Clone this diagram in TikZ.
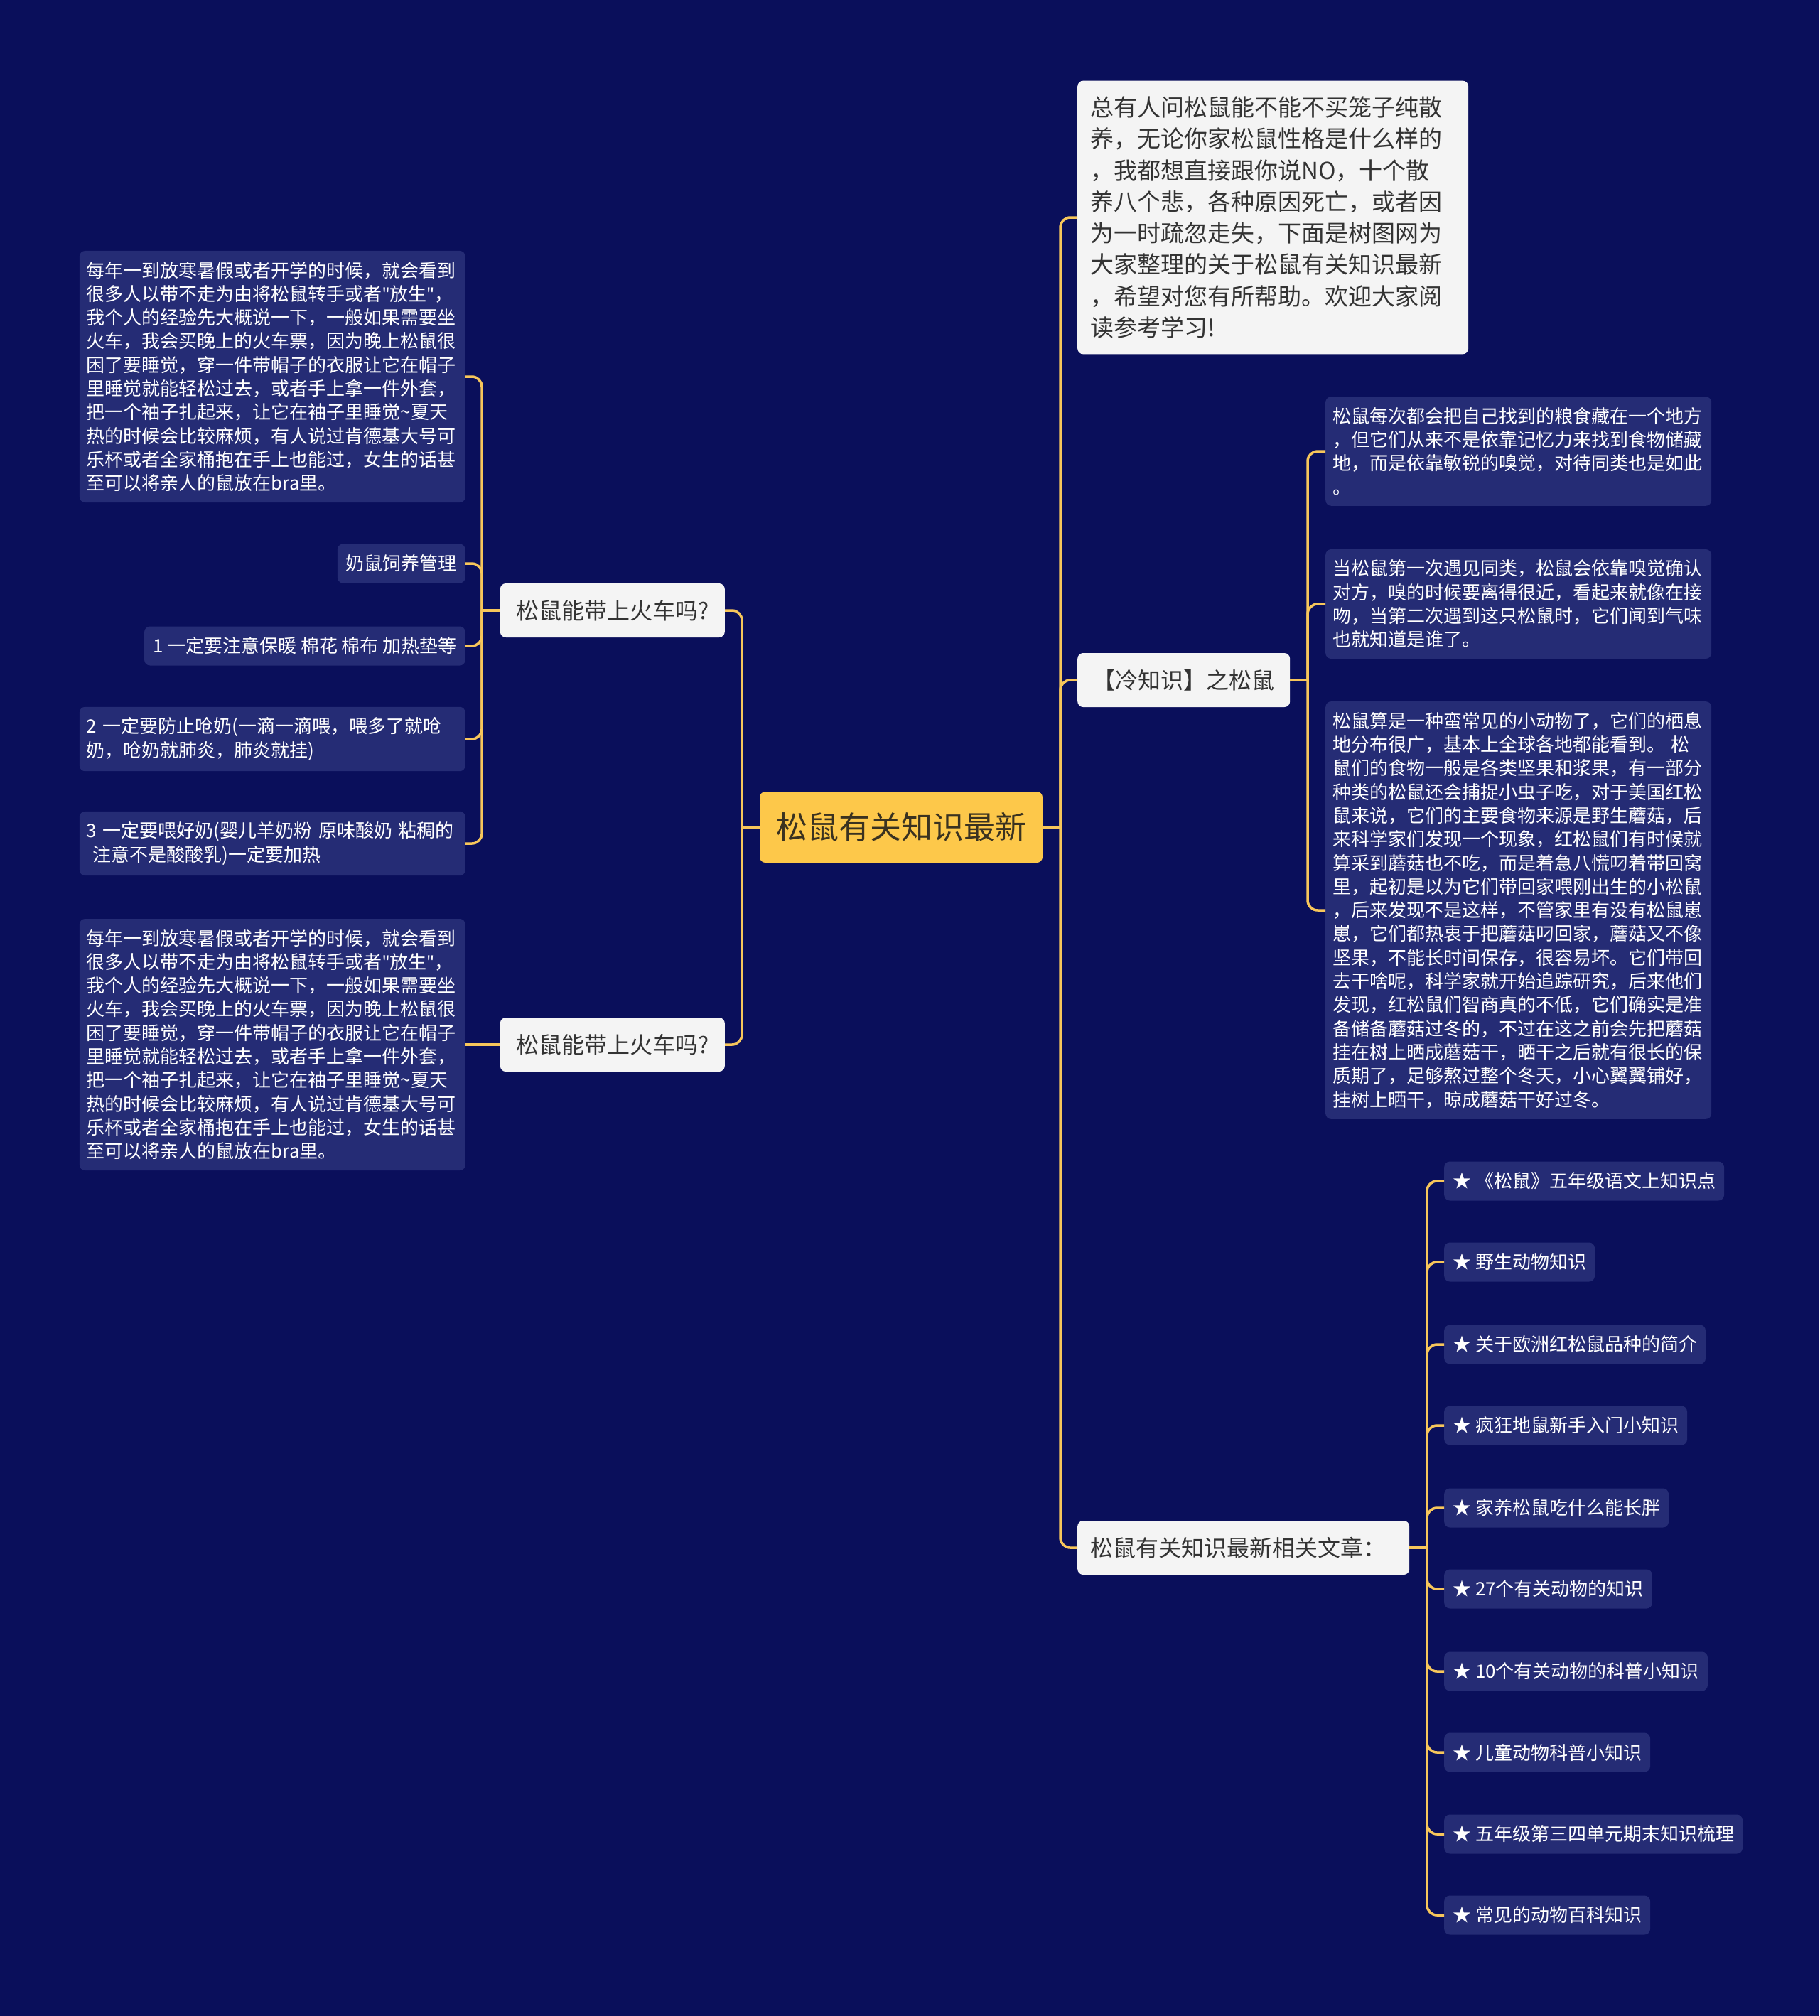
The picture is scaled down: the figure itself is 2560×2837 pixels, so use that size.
\documentclass[tikz,border=0pt]{standalone}
\usepackage{fontspec}
\setmainfont{Noto Sans CJK SC}
\newfontfamily\quotefont{Noto Sans}
\usepackage{tikz}
\usetikzlibrary{positioning, calc}
\definecolor{bgNavy}{HTML}{0A0F5B}
\definecolor{leafBlue}{HTML}{252C75}
\definecolor{lineGold}{HTML}{F7C65B}
\definecolor{rootGold}{HTML}{FDC84A}
\definecolor{rootInk}{HTML}{3A3220}
\definecolor{topicWhite}{HTML}{F4F4F4}
\definecolor{topicInk}{HTML}{333333}
\newcommand{\dq}{{\quotefont\symbol{"22}}}

\begin{document}
\begin{tikzpicture}[x=1pt, y=-1pt,
  rootbox/.style={fill=rootGold, text=rootInk, rounded corners=8pt,
                  minimum width=398pt, minimum height=100pt,
                  font=\fontsize{44pt}{52pt}\selectfont},
  topicbox/.style={fill=topicWhite, text=topicInk, rounded corners=8pt,
                   minimum height=76pt, inner xsep=18pt,
                   font=\fontsize{32pt}{40pt}\selectfont},
  leafbox/.style={fill=leafBlue, text=white, rounded corners=8pt,
                  inner xsep=10pt, inner ysep=15pt, align=left,
                  font=\fontsize{26pt}{33.3pt}\selectfont},
  longleaf/.style={leafbox, text width=523pt},
  itembox/.style={leafbox, inner xsep=12pt, minimum height=55pt},
  conn/.style={draw=lineGold, line width=3.5pt, rounded corners=14pt}
]
\fill[bgNavy] (0,0) rectangle (2560,2837);
\useasboundingbox (0,0) rectangle (2560,2837);

% root
\node[rootbox] (root) at (1268,1164) {松鼠有关知识最新};

% left side
\node[topicbox, anchor=east, minimum width=316pt] (train1) at (1020,859) {松鼠能带上火车吗?};
\node[topicbox, anchor=east, minimum width=316pt] (train2) at (1020,1470) {松鼠能带上火车吗?};

\node[longleaf, anchor=east] (trip1) at (655,530) {每年一到放寒暑假或者开学的时候，就会看到\\很多人以带不走为由将松鼠转手或者\dq 放生\dq ，\\我个人的经验先大概说一下，一般如果需要坐\\火车，我会买晚上的火车票，因为晚上松鼠很\\困了要睡觉，穿一件带帽子的衣服让它在帽子\\里睡觉就能轻松过去，或者手上拿一件外套，\\把一个袖子扎起来，让它在袖子里睡觉\textasciitilde 夏天\\热的时候会比较麻烦，有人说过肯德基大号可\\乐杯或者全家桶抱在手上也能过，女生的话甚\\至可以将亲人的鼠放在bra里。};
\node[itembox, anchor=east] (care) at (655,793) {奶鼠饲养管理};
\node[itembox, anchor=east] (tip1) at (655,909) {1 一定要注意保暖 棉花 棉布 加热垫等};
\node[longleaf, anchor=east] (tip2) at (655,1040) {2 一定要防止呛奶(一滴一滴喂，喂多了就呛\\奶，呛奶就肺炎，肺炎就挂)};
\node[longleaf, anchor=east] (tip3) at (655,1187) {3 一定要喂好奶(婴儿羊奶粉 原味酸奶 粘稠的\\\ 注意不是酸酸乳)一定要加热};
\node[longleaf, anchor=east] (trip2) at (655,1470) {每年一到放寒暑假或者开学的时候，就会看到\\很多人以带不走为由将松鼠转手或者\dq 放生\dq ，\\我个人的经验先大概说一下，一般如果需要坐\\火车，我会买晚上的火车票，因为晚上松鼠很\\困了要睡觉，穿一件带帽子的衣服让它在帽子\\里睡觉就能轻松过去，或者手上拿一件外套，\\把一个袖子扎起来，让它在袖子里睡觉\textasciitilde 夏天\\热的时候会比较麻烦，有人说过肯德基大号可\\乐杯或者全家桶抱在手上也能过，女生的话甚\\至可以将亲人的鼠放在bra里。};

% right side
\node[topicbox, anchor=west, text width=514pt, align=left, inner ysep=22pt,
      font=\fontsize{33pt}{44.3pt}\selectfont] (intro) at (1516,306)
  {总有人问松鼠能不能不买笼子纯散\\养，无论你家松鼠性格是什么样的\\，我都想直接跟你说NO，十个散\\养八个悲，各种原因死亡，或者因\\为一时疏忽走失，下面是树图网为\\大家整理的关于松鼠有关知识最新\\，希望对您有所帮助。欢迎大家阅\\读参考学习!};
\node[topicbox, anchor=west, minimum width=299pt] (cold) at (1516,957) {【冷知识】之松鼠};
\node[topicbox, anchor=west, minimum width=467pt, align=left, text width=431pt] (related) at (1516,2178) {松鼠有关知识最新相关文章：};

\node[longleaf, anchor=west] (fact1) at (1865,635) {松鼠每次都会把自己找到的粮食藏在一个地方\\，但它们从来不是依靠记忆力来找到食物储藏\\地，而是依靠敏锐的嗅觉，对待同类也是如此\\。};
\node[longleaf, anchor=west] (fact2) at (1865,850) {当松鼠第一次遇见同类，松鼠会依靠嗅觉确认\\对方，嗅的时候要离得很近，看起来就像在接\\吻，当第二次遇到这只松鼠时，它们闻到气味\\也就知道是谁了。};
\node[longleaf, anchor=west] (fact3) at (1865,1281) {松鼠算是一种蛮常见的小动物了，它们的栖息\\地分布很广，基本上全球各地都能看到。\ 松\\鼠们的食物一般是各类坚果和浆果，有一部分\\种类的松鼠还会捕捉小虫子吃，对于美国红松\\鼠来说，它们的主要食物来源是野生蘑菇，后\\来科学家们发现一个现象，红松鼠们有时候就\\算采到蘑菇也不吃，而是着急八慌叼着带回窝\\里，起初是以为它们带回家喂刚出生的小松鼠\\，后来发现不是这样，不管家里有没有松鼠崽\\崽，它们都热衷于把蘑菇叼回家，蘑菇又不像\\坚果，不能长时间保存，很容易坏。它们带回\\去干啥呢，科学家就开始追踪研究，后来他们\\发现，红松鼠们智商真的不低，它们确实是准\\备储备蘑菇过冬的，不过在这之前会先把蘑菇\\挂在树上晒成蘑菇干，晒干之后就有很长的保\\质期了，足够熬过整个冬天，小心翼翼铺好，\\挂树上晒干，晾成蘑菇干好过冬。};

\node[itembox, anchor=west] (art1)  at (2032,1662) {★ 《松鼠》五年级语文上知识点};
\node[itembox, anchor=west] (art2)  at (2032,1776) {★ 野生动物知识};
\node[itembox, anchor=west] (art3)  at (2032,1892) {★ 关于欧洲红松鼠品种的简介};
\node[itembox, anchor=west] (art4)  at (2032,2006) {★ 疯狂地鼠新手入门小知识};
\node[itembox, anchor=west] (art5)  at (2032,2122) {★ 家养松鼠吃什么能长胖};
\node[itembox, anchor=west] (art6)  at (2032,2236) {★ 27个有关动物的知识};
\node[itembox, anchor=west] (art7)  at (2032,2352) {★ 10个有关动物的科普小知识};
\node[itembox, anchor=west] (art8)  at (2032,2466) {★ 儿童动物科普小知识};
\node[itembox, anchor=west] (art9)  at (2032,2581) {★ 五年级第三四单元期末知识梳理};
\node[itembox, anchor=west] (art10) at (2032,2695) {★ 常见的动物百科知识};

% bars
\coordinate (rootL) at (1044,1164);
\coordinate (rootR) at (1492,1164);
\coordinate (train1L) at (678,859);
\coordinate (coldR) at (1840,957);
\coordinate (relatedR) at (2008,2178);

% connectors
\draw[conn] (root.west) -- (rootL);
\draw[conn] (rootL) |- (train1.east);
\draw[conn] (rootL) |- (train2.east);
\draw[conn] (train1.west) -- (train1L);
\draw[conn] (train1L) |- (trip1.east);
\draw[conn] (train1L) |- (care.east);
\draw[conn] (train1L) |- (tip1.east);
\draw[conn] (train1L) |- (tip2.east);
\draw[conn] (train1L) |- (tip3.east);
\draw[conn] (train2.west) -- (trip2.east);

\draw[conn] (root.east) -- (rootR);
\draw[conn] (rootR) |- (intro.west);
\draw[conn] (rootR) |- (cold.west);
\draw[conn] (rootR) |- (related.west);
\draw[conn] (cold.east) -- (coldR);
\draw[conn] (coldR) |- (fact1.west);
\draw[conn] (coldR) |- (fact2.west);
\draw[conn] (coldR) |- (fact3.west);
\draw[conn] (related.east) -- (relatedR);
\draw[conn] (relatedR) |- (art1.west);
\draw[conn] (relatedR) |- (art2.west);
\draw[conn] (relatedR) |- (art3.west);
\draw[conn] (relatedR) |- (art4.west);
\draw[conn] (relatedR) |- (art5.west);
\draw[conn] (relatedR) |- (art6.west);
\draw[conn] (relatedR) |- (art7.west);
\draw[conn] (relatedR) |- (art8.west);
\draw[conn] (relatedR) |- (art9.west);
\draw[conn] (relatedR) |- (art10.west);
\end{tikzpicture}
\end{document}
